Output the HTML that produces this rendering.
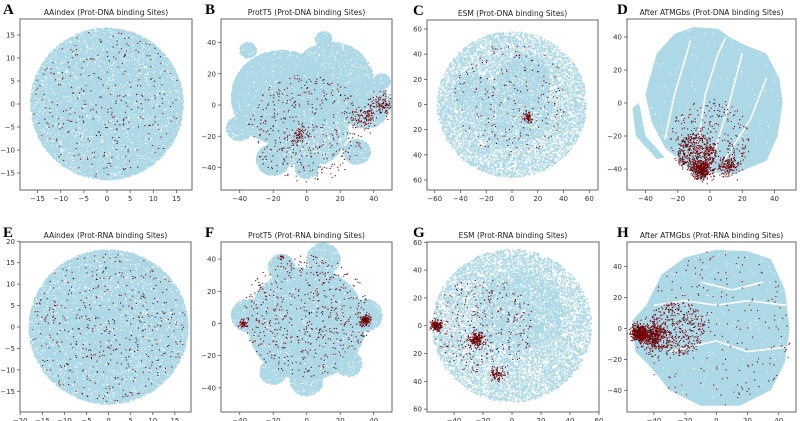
<!DOCTYPE html>
<html><head><meta charset="utf-8">
<style>
html,body{margin:0;padding:0;background:#fff;width:800px;height:421px;overflow:hidden}
#wrap{position:relative;width:800px;height:421px}
canvas,svg{position:absolute;left:0;top:0}
text{font-family:"DejaVu Sans","Liberation Sans",sans-serif}
</style></head><body>
<div id="wrap">
<canvas id="cv" width="1600" height="842" style="width:800px;height:421px"></canvas>
<svg id="sv" width="800" height="421"></svg>
</div>
<script>
const titles=["AAindex (Prot-DNA binding Sites)","ProtT5 (Prot-DNA binding Sites)","ESM (Prot-DNA binding Sites)","After ATMGbs (Prot-DNA binding Sites)","AAindex (Prot-RNA binding Sites)","ProtT5 (Prot-RNA binding Sites)","ESM (Prot-RNA binding Sites)","After ATMGbs (Prot-RNA binding Sites)"];
const letters=["A","B","C","D","E","F","G","H"];
const xTicks=[[-15,-10,-5,0,5,10,15],[-40,-20,0,20,40],[-60,-40,-20,0,20,40,60],[-40,-20,0,20,40],[-20,-15,-10,-5,0,5,10,15],[-40,-20,0,20,40],[-40,-20,0,20,40,60],[-40,-20,0,20,40]];
const yTicks=[[-15,-10,-5,0,5,10,15],[-40,-20,0,20,40],[-60,-40,-20,0,20,40,60],[-40,-20,0,20,40],[-15,-10,-5,0,5,10,15,20],[-40,-20,0,20,40],[-60,-40,-20,0,20,40,60],[-40,-20,0,20,40]];
// blue clusters [cx,cy,r,n]
const blueA=[[0,0,16.5,22000],[1,0,3,600],[-3,5,2.5,400],[-3,-5,2,300],[7,-6,2,300],[-8,-2,2,250],[4,6,2,250]];
const blueB=[[-15,5,30,14000],[15,15,25,7000],[-20,-35,10,1800],[0,-40,7,700],[35,0,15,2500],[-40,-15,8,600],[10,42,5,400],[30,-30,8,800],[-35,35,5,300],[45,15,5,300],[0,-15,25,5000]];
const blueC=[[0,0,58,9000],[10,20,20,2000],[-30,10,15,1000],[0,-5,30,2000]];
const blueD=[];
const blueE=[[0,0,18,24000],[-5,2,3,500],[3,6,2.5,400],[-2,-6,2.5,400],[-8,-2,2.5,350],[0,4,2,250],[4,-2,2.5,350]];
const blueF=[[0,0,35,16000],[-35,5,10,1500],[35,5,10,1500],[-15,35,8,800],[10,40,10,1000],[-20,-30,8,700],[0,-35,10,900],[25,-25,8,700]];
const blueG=[[0,0,55,9000],[5,10,30,2500]];
const blueH=[];
const polyD=[[-38,13],[-33,30],[-22,42],[-10,46],[5,45],[12,40],[22,35],[35,30],[43,15],[45,0],[42,-20],[35,-35],[15,-43],[0,-42],[-5,-48],[-15,-38],[-28,-27],[-36,-12],[-40,5]];
const polyD2=[[-48,-3],[-44,0],[-40,-20],[-28,-33],[-33,-34],[-46,-20]];
const polyH=[[-52,-15],[-54,5],[-45,15],[-35,35],[-20,46],[0,51],[20,50],[35,45],[44,25],[47,0],[44,-22],[35,-40],[15,-50],[-10,-50],[-30,-40],[-42,-25]];
// red clusters [cx,cy,r,n]
const redA=[[0,0,16,300]];
const redB=[[0,-15,35,400],[45,0,7,120],[35,-8,7,100],[-5,-20,5,60]];
const redC=[[0,5,45,200],[12,-10,4,70]];
const redD=[[-5,-40,6,350],[-8,-30,12,450],[0,-22,25,300],[12,-38,6,150]];
const redE=[[0,0,17.5,450]];
const redF=[[0,5,38,550],[35,2,3,150],[-38,0,3,50],[-15,41,1.5,15]];
const redG=[[-52,0,4,160],[-25,-10,5,200],[-10,-35,5,90],[-20,0,35,300]];
const redH=[[-49,-3,5,500],[-40,-5,9,450],[-25,0,18,400],[0,0,50,200]];

const blues=[blueA,blueB,blueC,blueD,blueE,blueF,blueG,blueH];
const reds=[redA,redB,redC,redD,redE,redF,redG,redH];
const polys=[[],[],[],[polyD,polyD2],[],[],[],[polyH]];
const speckle=[700,700,2600,300,700,700,2600,300];
const frames=[[20,19,192,190],[221,19,392,190],[427,20,598,190],[627,19,796,190],[20,242,191,412],[221,242,392,412],[427,242,599,412],[627,242,796,412]];
const xm=[[107,4.63],[306.7,1.675],[512,1.289],[710,1.6125],[108.6,4.42],[306.7,1.675],[512,1.45],[716.3,1.56]];
const ym=[[104,4.6],[105,1.5625],[104.5,1.258],[103,1.65],[327,4.286],[323.5,1.61],[325.7,1.39],[328.5,1.545]];
const letterX=[3,205,413,617,3,205,413,617];

function rng(s){return function(){s|=0;s=s+0x6D2B79F5|0;let t=Math.imul(s^s>>>15,1|s);t=t+Math.imul(t^t>>>7,61|t)^t;return((t^t>>>14)>>>0)/4294967296;}}
const cv=document.getElementById('cv');const ctx=cv.getContext('2d');ctx.scale(2,2);
const sv=document.getElementById('sv');const NS="http://www.w3.org/2000/svg";
for(let k=0;k<8;k++){
  const R=rng(k*977+13);
  const X=v=>xm[k][0]+xm[k][1]*v, Y=v=>ym[k][0]-ym[k][1]*v;
  const f=frames[k];
  ctx.save();ctx.beginPath();ctx.rect(f[0],f[1],f[2]-f[0],f[3]-f[1]);ctx.clip();
  ctx.fillStyle="#add8e6";
  for(const c of blues[k]){for(let i=0;i<c[3];i++){const a=R()*6.2832,r=c[2]*Math.sqrt(R());ctx.fillRect(X(c[0]+r*Math.cos(a))-0.75,Y(c[1]+r*Math.sin(a))-0.75,1.5,1.5);}}
  for(const p of polys[k]){ctx.beginPath();p.forEach((q,i)=>i?ctx.lineTo(X(q[0]),Y(q[1])):ctx.moveTo(X(q[0]),Y(q[1])));ctx.closePath();ctx.fill();}
  if(k==3||k==7){ctx.strokeStyle="#fff";ctx.lineWidth=1.6;
    const gaps=k==3?[[[-28,-22],[-22,5],[-12,38]],[[-8,-30],[-3,5],[5,30],[10,40]],[[2,-32],[12,0],[20,30]],[[8,-36],[25,-10],[35,15]]]:[[[-40,15],[-20,18],[0,15],[20,18],[45,15]],[[-30,-15],[0,-8],[20,-15],[45,-12]],[[-10,30],[10,25],[30,30]]];
    for(const g of gaps){ctx.beginPath();g.forEach((q,i)=>i?ctx.lineTo(X(q[0]),Y(q[1])):ctx.moveTo(X(q[0]),Y(q[1])));ctx.stroke();}}
  ctx.fillStyle="#fff";for(let i=0;i<speckle[k];i++){ctx.fillRect(f[0]+R()*(f[2]-f[0]),f[1]+R()*(f[3]-f[1]),1,1);}
  for(const c of reds[k]){for(let i=0;i<c[3];i++){let dx,dy;
      if(c[2]<10){const u=Math.sqrt(-2*Math.log(R()+1e-9)),a=R()*6.2832;dx=c[2]*0.5*u*Math.cos(a);dy=c[2]*0.5*u*Math.sin(a);}
      else{const a=R()*6.2832,r=c[2]*Math.sqrt(R());dx=r*Math.cos(a);dy=r*Math.sin(a);}
      ctx.fillStyle=R()<0.3?"#2a1020":"#8b0000";ctx.fillRect(X(c[0]+dx)-0.55,Y(c[1]+dy)-0.55,1.1,1.1);}}
  ctx.restore();
  const g=document.createElementNS(NS,'g');
  
  
  sv.appendChild(g);
  const rect=document.createElementNS(NS,'rect');
  
  
  rect.setAttribute('x',f[0]);rect.setAttribute('y',f[1]);rect.setAttribute('width',f[2]-f[0]);rect.setAttribute('height',f[3]-f[1]);rect.setAttribute('fill','none');rect.setAttribute('stroke','#555');rect.setAttribute('stroke-width','0.9');g.appendChild(rect);
  const t=document.createElementNS(NS,'text');
  
  
  t.setAttribute('x',(f[0]+f[2])/2);t.setAttribute('y',f[1]-4);t.setAttribute('text-anchor','middle');t.setAttribute('font-size','7.5');t.setAttribute('fill','#222');t.textContent=titles[k];g.appendChild(t);
  const L=document.createElementNS(NS,'text');
  
  
  L.setAttribute('x',letterX[k]);L.setAttribute('y',f[1]-5);L.setAttribute('font-size','15');L.setAttribute('font-weight','bold');L.setAttribute('style','font-family:"Liberation Serif",serif');L.textContent=letters[k];g.appendChild(L);
  for(const v of xTicks[k]){const px=X(v);if(px>f[2]+1)continue;
    const tk=document.createElementNS(NS,'line');
    
    
    tk.setAttribute('x1',px);tk.setAttribute('x2',px);tk.setAttribute('y1',f[3]);tk.setAttribute('y2',f[3]+3);tk.setAttribute('stroke','#555');tk.setAttribute('stroke-width','0.8');g.appendChild(tk);
    const tl=document.createElementNS(NS,'text');
    
    
    tl.setAttribute('x',px);tl.setAttribute('y',f[3]+11);tl.setAttribute('text-anchor','middle');tl.setAttribute('font-size','7');tl.setAttribute('fill','#333');tl.textContent=(v<0?'\u2212':'')+Math.abs(v);g.appendChild(tl);}
  for(const v of yTicks[k]){const py=Y(v);
    const tk=document.createElementNS(NS,'line');
    
    
    tk.setAttribute('x1',f[0]-3);tk.setAttribute('x2',f[0]);tk.setAttribute('y1',py);tk.setAttribute('y2',py);tk.setAttribute('stroke','#555');tk.setAttribute('stroke-width','0.8');g.appendChild(tk);
    const tl=document.createElementNS(NS,'text');
    
    
    tl.setAttribute('x',f[0]-5);tl.setAttribute('y',py+2.5);tl.setAttribute('text-anchor','end');tl.setAttribute('font-size','7');tl.setAttribute('fill','#333');
    tl.textContent=(k==2||k==6)?String(Math.abs(v)):(v<0?'\u2212':'')+Math.abs(v);g.appendChild(tl);}
}
</script>
</body></html>
